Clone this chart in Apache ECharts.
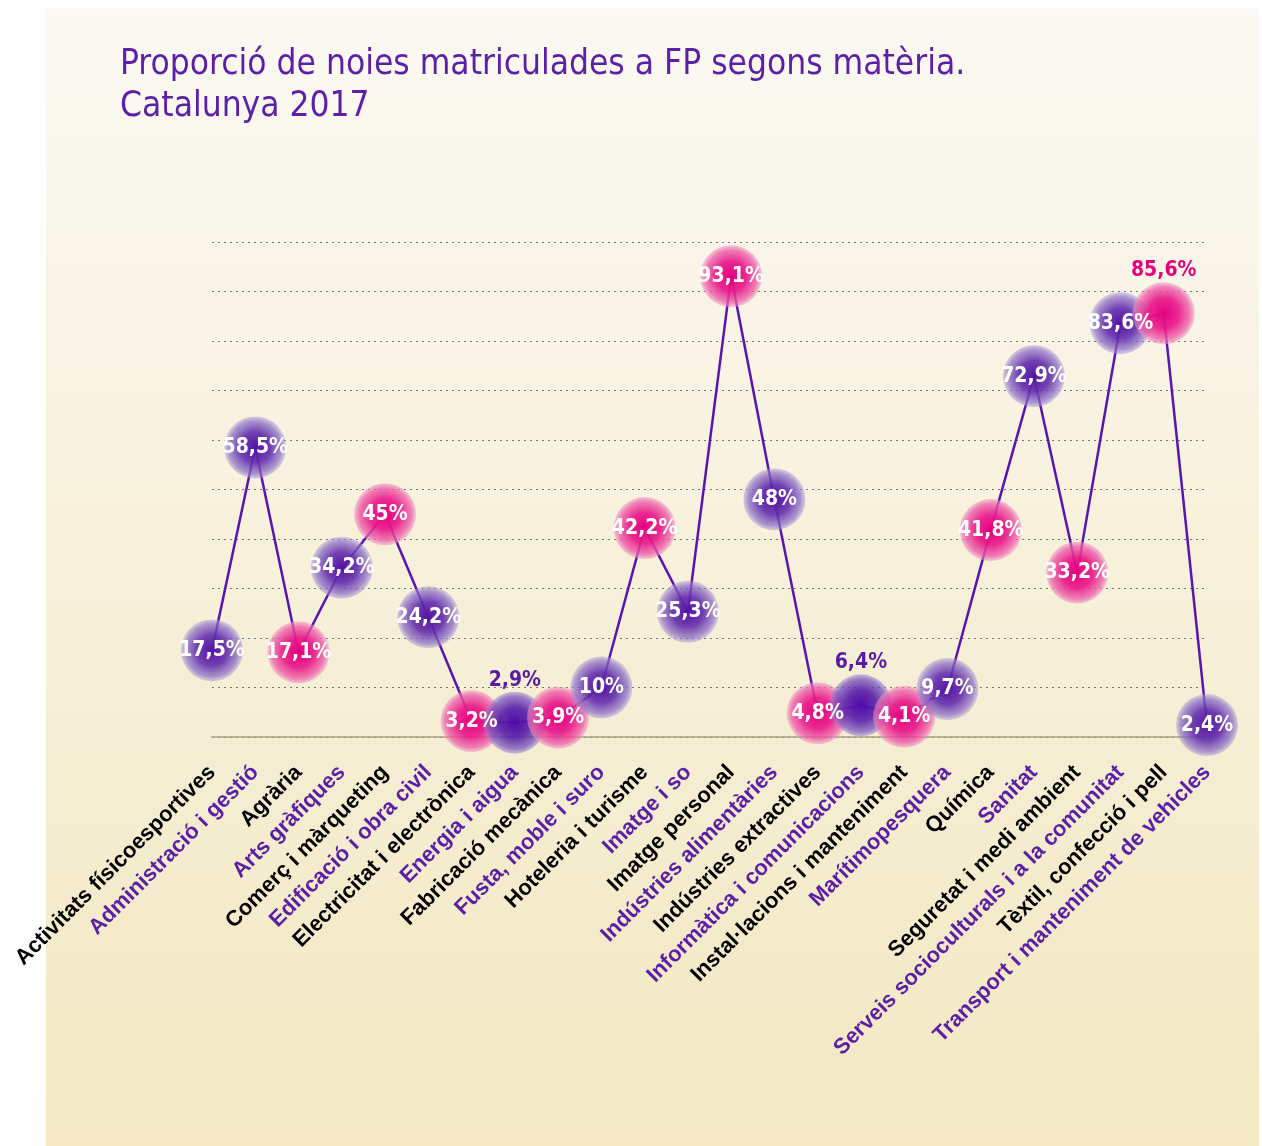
<!DOCTYPE html>
<html><head><meta charset="utf-8">
<script src="https://cdn.jsdelivr.net/npm/echarts@6/dist/echarts.min.js"></script>
<style>html,body{margin:0;padding:0;background:#fff}#c{width:1262px;height:1146px}</style>
</head><body><div id="c"></div>
<script>
const categories = ["Activitats físicoesportives","Administració i gestió","Agrària","Arts gràfiques","Comerç i màrqueting","Edificació i obra civil","Electricitat i electrònica","Energia i aigua","Fabricació mecànica","Fusta, moble i suro","Hoteleria i turisme","Imatge i so","Imatge personal","Indústries alimentàries","Indústries extractives","Informàtica i comunicacions","Instal·lacions i manteniment","Marítimopesquera","Química","Sanitat","Seguretat i medi ambient","Serveis socioculturals i a la comunitat","Tèxtil, confecció i pell","Transport i manteniment de vehicles"];
const values = [17.5,58.5,17.1,34.2,45,24.2,3.2,2.9,3.9,10,42.2,25.3,93.1,48,4.8,6.4,4.1,9.7,41.8,72.9,33.2,83.6,85.6,2.4];
const yTicks = [0,10,20,30,40,50,60,70,80,90,100];

// styling maps (not data)
const bubbleKind = ['v','v','m','v','m','v','m','V','m','v','m','v','m','v','m','V','m','v','m','v','m','v','m','v'];
const labelAbove = {7:'#5a1aa5',15:'#5a1aa5',22:'#e6007e'};
const PURPLE='#5b1fa6', BLACK='#000';

function grad(kind){
  if(kind==='m') return {type:'radial',x:0.5,y:0.5,r:0.5,colorStops:[
    {offset:0,color:'rgba(230,0,126,1)'},{offset:0.5,color:'rgba(233,25,138,0.92)'},{offset:0.85,color:'rgba(237,95,168,0.78)'},{offset:1,color:'rgba(242,150,195,0.5)'}]};
  if(kind==='V') return {type:'radial',x:0.5,y:0.5,r:0.5,colorStops:[
    {offset:0,color:'rgba(80,10,170,1)'},{offset:0.5,color:'rgba(88,30,168,0.9)'},{offset:0.85,color:'rgba(120,85,190,0.75)'},{offset:1,color:'rgba(160,135,210,0.5)'}]};
  return {type:'radial',x:0.5,y:0.5,r:0.5,colorStops:[
    {offset:0,color:'rgba(85,20,165,1)'},{offset:0.5,color:'rgba(98,45,172,0.9)'},{offset:0.85,color:'rgba(140,110,198,0.72)'},{offset:1,color:'rgba(175,155,215,0.45)'}]};
}
const fmt = v => String(v).replace('.',',')+'%';

const seriesData = values.map((v,i)=>{
  const d = {value:v, itemStyle:{color:grad(bubbleKind[i])}};
  if(labelAbove[i]!==undefined){
    d.label={position:'top',distance:1,color:labelAbove[i],fontSize:21};
  }
  return d;
});

const chart = echarts.init(document.getElementById('c'),null,{renderer:'canvas'});
chart.setOption({
  animation:false,
  graphic:[{type:'rect',z:-10,shape:{x:46,y:8,width:1213,height:1138},
    style:{fill:{type:'linear',x:0,y:0,x2:0,y2:1,colorStops:[{offset:0,color:'#fbf9f3'},{offset:1,color:'#f3e8c2'}]}}}],
  title:{text:'Proporció de noies matriculades a FP segons matèria.\nCatalunya 2017',left:115,top:39,
    textStyle:{fontFamily:"'Liberation Sans Narrow','DejaVu Sans Condensed',sans-serif",fontWeight:'normal',fontSize:35,lineHeight:42,color:'#5c1fa8'}},
  grid:{left:212,right:55,top:242,bottom:409},
  xAxis:{type:'category',boundaryGap:false,
    data:categories.map((c,i)=>({value:c,textStyle:{color:i%2?PURPLE:BLACK}})),
    axisLine:{show:true,lineStyle:{color:'#a8a282',width:1.5}},axisTick:{show:false},
    axisLabel:{interval:0,rotate:45,margin:32,fontFamily:"'Liberation Sans',Arial,sans-serif",fontWeight:'bold',fontSize:22},
    splitLine:{show:false}},
  yAxis:{type:'value',min:0,max:100,interval:10,
    axisLabel:{show:false},axisLine:{show:false},axisTick:{show:false},
    splitLine:{show:true,lineStyle:{type:[2,4],color:'#777',width:1}}},
  series:[{type:'line',data:seriesData,symbol:'circle',symbolSize:62,
    lineStyle:{color:'#5a14b0',width:2.5},
    itemStyle:{borderWidth:0},
    label:{show:true,position:'inside',formatter:p=>fmt(p.value),color:'#fff',
      fontFamily:"'Liberation Sans Narrow','DejaVu Sans Condensed',sans-serif",fontWeight:'bold',fontSize:21},
    emphasis:{disabled:true}}]
});
</script></body></html>
